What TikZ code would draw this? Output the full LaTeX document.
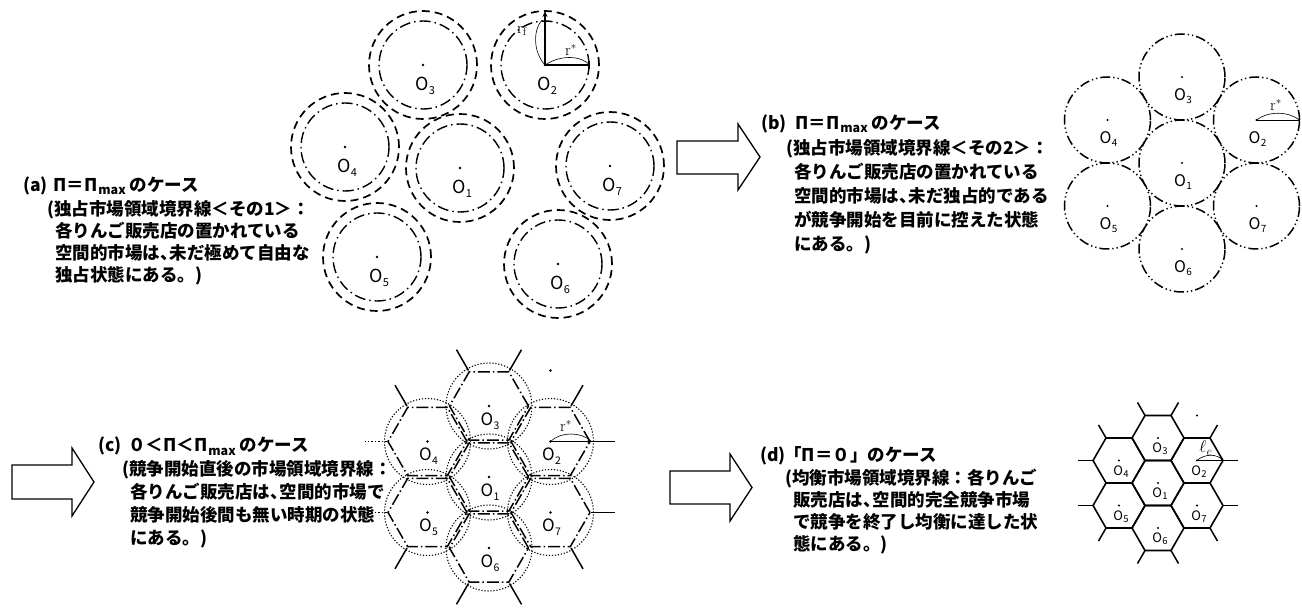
\documentclass[tikz,border=0pt]{standalone}
\usepackage{fontspec}
\newfontfamily\jp{Noto Sans CJK JP}
\usetikzlibrary{arrows.meta}
\newcommand{\mxs}{\kern1pt\raisebox{-3.5pt}{\fontsize{12.5}{12.5}\selectfont max}\kern4pt}
\newcommand{\tn}{、\kern-0.45em}
\newcommand{\Osub}[3]{O\kern0.3pt\raisebox{-#2}{\fontsize{#3}{#3}\selectfont #1}}
\tikzset{
  txt/.style={anchor=base west, inner sep=0pt, font=\jp\bfseries\fontsize{17.5}{20}\selectfont},
  blk/.style={draw, line width=1.3pt, line join=miter, fill=white},
  outerc/.style={line width=1.7pt, dash pattern=on 8pt off 5pt},
  innerc/.style={line width=1.4pt, dash pattern=on 11pt off 4pt on 1.5pt off 4pt},
  ddc/.style={line width=1.5pt, dash pattern=on 10pt off 3pt on 1.3pt off 3pt on 1.3pt off 3pt},
  hexc/.style={line width=1.5pt, dash pattern=on 12pt off 3pt on 1.5pt off 3pt},
  dotc/.style={line width=1.1pt, dash pattern=on 1.2pt off 1.8pt},
  hexd/.style={line width=1.6pt, line join=miter},
  spk/.style={line width=1.5pt},
  spkdot/.style={line width=1.3pt, dash pattern=on 1.5pt off 2pt},
  thinl/.style={line width=0.6pt},
  laba/.style={inner sep=0pt, font=\jp\fontsize{18}{18}\selectfont},
  labb/.style={inner sep=0pt, font=\jp\fontsize{16}{16}\selectfont},
  labc/.style={inner sep=0pt, font=\jp\fontsize{17}{17}\selectfont},
  labd/.style={inner sep=0pt, font=\jp\fontsize{13}{13}\selectfont},
  rlab/.style={inner sep=0pt, font=\fontsize{16}{16}\selectfont},
}
\begin{document}
\begin{tikzpicture}[x=1pt,y=-1pt]
\fill[white] (0,0) rectangle (1302,612);
\useasboundingbox (0,0) rectangle (1302,612);

% ---------- block arrows ----------
\draw[blk] (677,141) -- (738,141) -- (738,124) -- (760,157) -- (738,190) -- (738,174) -- (677,174) -- cycle;
\draw[blk] (12,465) -- (72,465) -- (72,448) -- (94,482) -- (72,516) -- (72,499) -- (12,499) -- cycle;
\draw[blk] (670,471) -- (730,471) -- (730,454) -- (752,487.5) -- (730,521) -- (730,504) -- (670,504) -- cycle;

% ---------- panel (a) ----------
\foreach \n/\x/\y in {1/460/168,2/545/65,3/423/65,4/345/147,5/377/257,6/558/264,7/610/166}{
  \coordinate (a\n) at (\x,\y);
  \draw[outerc] (a\n) circle[radius=54pt];
  \draw[innerc] (a\n) circle[radius=44pt];
  \fill (a\n) circle[radius=1.3pt];
  \node[laba] (la\n) at (\x+2,\y+21) {\Osub{\n}{4pt}{11}};
}
\coordinate (a2t) at (545,11);
\coordinate (a2r) at (590,65);
\draw[line width=1.2pt, -{Stealth[length=6pt,width=5pt]}] (a2) -- (a2t);
\draw[line width=1.2pt, -{Bar[width=8pt]}] (a2) -- (a2r);
\draw[thinl] (a2) .. controls (533,52) and (533,30) .. (542,20);
\draw[thinl] (a2) .. controls (560,55) and (580,55) .. (a2r);
\node[rlab] (rf) at (522,31) {$\mathrm{r}_{\mathrm{f}}$};
\node[rlab] (rsa) at (571,50) {$\mathrm{r}^{*}$};

\node[txt] (ta0) at (23,191.5) {(a)};
\node[txt] (ta1) at (53,191.5) {Π＝Π\mxs のケース};
\node[txt] (ta2) at (47,216) {(独占市場領域境界線＜その1＞：};
\node[txt] (ta3) at (55,238) {各りんご販売店の置かれている};
\node[txt] (ta4) at (55,260) {空間的市場は\tn{}未だ極めて自由な};
\node[txt] (ta5) at (55,282) {独占状態にある。)};

% ---------- panel (b) ----------
\foreach \n/\x/\y in {1/1182/163,2/1256.5/120,3/1182/77,4/1107.5/120,5/1107.5/206,6/1182/249,7/1256.5/206}{
  \coordinate (b\n) at (\x,\y);
  \draw[ddc] (b\n) circle[radius=43pt];
  \fill (b\n) circle[radius=1.2pt];
  \node[labb] (lb\n) at (\x+1,\y+19) {\Osub{\n}{3.5pt}{10}};
}
\coordinate (b2r) at (1299.5,120);
\draw[thinl] (b2) -- (b2r);
\draw[thinl] (b2) .. controls (1268,111) and (1288,111) .. (b2r);
\node[rlab] (rsb) at (1276,105) {$\mathrm{r}^{*}$};

\node[txt] (tb0) at (761,129.5) {(b)};
\node[txt] (tb1) at (795,129.5) {Π＝Π\mxs のケース};
\node[txt] (tb2) at (786,154.5) {(独占市場領域境界線＜その2＞：};
\node[txt] (tb3) at (794,178.5) {各りんご販売店の置かれている};
\node[txt] (tb4) at (794,202.5) {空間的市場は\tn{}未だ独占的である};
\node[txt] (tb5) at (794,226.5) {が競争開始を目前に控えた状態};
\node[txt] (tb6) at (794,250.5) {にある。)};

% ---------- panel (c) ----------
\coordinate (c1) at (489,477);
\foreach \n/\t in {2/30,3/90,4/150,5/210,6/270,7/330}{
  \path (c1) ++(\t:71pt) coordinate (c\n);
}
\path (c2) ++(90:71pt) coordinate (c8);
\foreach \n in {1,...,7}{
  \draw[dotc] (c\n) circle[radius=43pt];
  \draw[hexc, shift={(c\n)}] (0:39.5pt) -- (60:39.5pt) -- (120:39.5pt) -- (180:39.5pt) -- (240:39.5pt) -- (300:39.5pt) -- cycle;
  \fill (c\n) circle[radius=1.3pt];
  \node[labc] (lc\n) at ([xshift=1pt,yshift=-15pt]c\n) {\Osub{\n}{4pt}{10.5}};
}
\fill (c8) circle[radius=1.3pt];
\foreach \n/\a in {2/0,2/60,3/60,3/120,4/120,5/240,6/240,6/300,7/300,7/0}{
  \draw[spk] (c\n) ++(\a:41pt) -- ++(\a:24pt);
}
\foreach \n/\a in {4/180,5/180}{
  \draw[spkdot] (c\n) ++(\a:41pt) -- ++(\a:22pt);
}
\path (c2) ++(0:41pt) coordinate (c2r);
\draw[thinl, -{Stealth[length=4pt,width=3pt]}] (c2) -- (c2r);
\draw[thinl] (c2) .. controls +(10,-10) and +(-10,-10) .. (c2r);
\node[rlab] (rsc) at (566,426) {$\mathrm{r}^{*}$};

\node[txt] (tc0) at (98,451.5) {(c)};
\node[txt] (tc1) at (128,451.5) {０＜Π＜Π\mxs のケース};
\node[txt] (tc2) at (122,475.5) {(競争開始直後の市場領域境界線：};
\node[txt] (tc3) at (130,498.5) {各りんご販売店は\tn{}空間的市場で};
\node[txt] (tc4) at (130,521.5) {競争開始後間も無い時期の状態};
\node[txt] (tc5) at (130,544.5) {にある。)};

% ---------- panel (d) ----------
\coordinate (d1) at (1158,483);
\foreach \n/\t in {2/30,3/90,4/150,5/210,6/270,7/330}{
  \path (d1) ++(\t:45pt) coordinate (d\n);
}
\path (d2) ++(90:45pt) coordinate (d8);
\foreach \n in {1,...,7}{
  \draw[hexd, shift={(d\n)}] (0:26pt) -- (60:26pt) -- (120:26pt) -- (180:26pt) -- (240:26pt) -- (300:26pt) -- cycle;
  \fill (d\n) circle[radius=1.2pt];
  \node[labd] (ld\n) at ([xshift=2pt,yshift=-11pt]d\n) {\Osub{\n}{2pt}{9.5}};
}
\fill (d8) circle[radius=1.2pt];
\foreach \n/\a in {2/0,2/60,3/60,3/120,4/120,4/180,5/180,5/240,6/240,6/300,7/300,7/0}{
  \draw[spk] (d\n) ++(\a:26pt) -- ++(\a:15pt);
}
\path (d2) ++(0:26pt) coordinate (d2r);
\draw[thinl] (d2) -- (d2r);
\draw[thinl] (d2) .. controls +(8,-7) and +(-6,-7) .. (d2r);
\node[rlab, font=\fontsize{17}{17}\selectfont] (le) at (1206,448) {$\ell_{e}$};

\node[txt] (td0) at (760,461.5) {(d)};
\node[txt] (td1) at (784,461.5) {「Π＝０」のケース};
\node[txt] (td2) at (785,484.5) {(均衡市場領域境界線：各りんご};
\node[txt] (td3) at (793,506.5) {販売店は\tn{}空間的完全競争市場};
\node[txt] (td4) at (793,528.5) {で競争を終了し均衡に達した状};
\node[txt] (td5) at (793,550.5) {態にある。)};
\end{tikzpicture}
\end{document}
